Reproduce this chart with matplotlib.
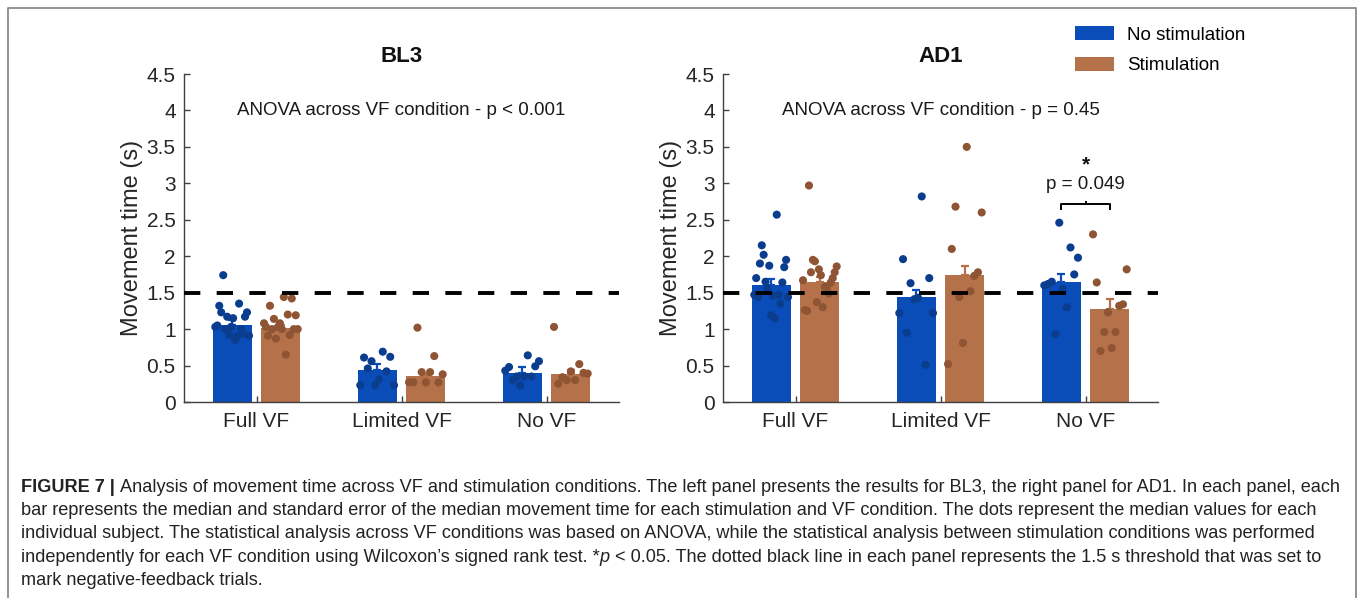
import numpy as np
import matplotlib
matplotlib.use('Agg')
import matplotlib.pyplot as plt
from matplotlib.patches import Patch
from matplotlib.lines import Line2D

plt.rcParams['font.family'] = ['Liberation Sans', 'DejaVu Sans']

conditions = ['Full VF', 'Limited VF', 'No VF']
ytick_vals = [0, 0.5, 1, 1.5, 2, 2.5, 3, 3.5, 4, 4.5]
ytick_text = ['0', '0.5', '1', '1.5', '2', '2.5', '3', '3.5', '4', '4.5']

# BL3 - bar medians and standard error (upper part only)
bl3_nostim_med = [1.06, 0.44, 0.40]
bl3_nostim_err = [0.06, 0.08, 0.075]
bl3_stim_med = [1.01, 0.35, 0.39]
bl3_stim_err = [0.05, 0.04, 0.05]

# BL3 - individual subject medians (left to right within a bar)
bl3_nostim_pts = [
    [1.03, 1.05, 1.32, 1.23, 1.74, 1.0, 1.17, 0.92, 1.03, 1.15, 0.85, 0.9, 1.35, 1.0, 0.94, 1.17, 1.23, 0.91],
    [0.23, 0.61, 0.46, 0.56, 0.23, 0.31, 0.69, 0.42, 0.62, 0.23],
    [0.43, 0.48, 0.3, 0.35, 0.23, 0.35, 0.64, 0.35, 0.49, 0.56],
]
bl3_stim_pts = [
    [1.08, 1.03, 0.91, 1.32, 1.0, 1.14, 0.87, 1.03, 1.08, 1.0, 1.44, 0.65, 1.2, 0.92, 1.42, 1.0, 1.19, 1.0],
    [0.27, 0.27, 1.02, 0.41, 0.27, 0.41, 0.63, 0.27, 0.38],
    [1.03, 0.25, 0.34, 0.3, 0.42, 0.3, 0.52, 0.4, 0.39],
]

# AD1
ad1_nostim_med = [1.61, 1.44, 1.65]
ad1_nostim_err = [0.08, 0.10, 0.11]
ad1_stim_med = [1.65, 1.74, 1.28]
ad1_stim_err = [0.06, 0.13, 0.13]

ad1_nostim_pts = [
    [1.47, 1.7, 1.44, 1.9, 2.15, 2.02, 1.65, 1.56, 1.87, 1.19, 1.46, 1.15, 2.57, 1.47, 1.35, 1.64, 1.85, 1.95, 1.44],
    [1.22, 1.96, 0.95, 1.63, 1.41, 1.43, 2.82, 0.51, 1.7, 1.22],
    [1.6, 1.62, 1.65, 0.93, 2.46, 1.55, 1.3, 2.12, 1.75, 1.98],
]
ad1_stim_pts = [
    [1.67, 1.26, 1.25, 2.97, 1.78, 1.95, 1.93, 1.37, 1.82, 1.74, 1.3, 1.58, 1.57, 1.49, 1.64, 1.7, 1.78, 1.86],
    [0.52, 2.1, 2.68, 1.44, 0.81, 3.5, 1.52, 1.73, 1.78, 2.6],
    [2.3, 1.64, 0.7, 0.96, 1.23, 0.74, 0.96, 1.32, 1.34, 1.82],
]

threshold = 1.5
anova_bl3 = 'ANOVA across VF condition - p < 0.001'
anova_ad1 = 'ANOVA across VF condition - p = 0.45'
sig_text = 'p = 0.049'

blue = '#0a4db8'
blue_dot = '#0b3d8e'
brown = '#b4714a'
brown_dot = '#8f5433'
spine_col = '#404040'
txt_col = '#222222'

W, H = 1358, 598
fig = plt.figure(figsize=(W / 100, H / 100), dpi=100)

bw = 0.27
off = 0.168


def panel(ax, title, anova, nm, ne, sm, se, npts, spts):
    x = np.arange(1, len(conditions) + 1)
    ax.bar(x - off, nm, bw, color=blue, zorder=2)
    ax.bar(x + off, sm, bw, color=brown, zorder=2)
    ax.errorbar(x - off, nm, yerr=[np.zeros(len(nm)), ne], fmt='none',
                ecolor=blue, elinewidth=1.6, capsize=3, capthick=1.6, zorder=2.5)
    ax.errorbar(x + off, sm, yerr=[np.zeros(len(sm)), se], fmt='none',
                ecolor=brown, elinewidth=1.6, capsize=3, capthick=1.6, zorder=2.5)
    for i in range(len(conditions)):
        for pts, c, sgn in ((npts[i], blue_dot, -1), (spts[i], brown_dot, 1)):
            xs = x[i] + sgn * off + np.linspace(-0.43, 0.43, len(pts)) * bw
            ax.scatter(xs, pts, s=34, color=c, edgecolors='none', zorder=3)
    ax.axhline(threshold, color='black', lw=2.8, linestyle=(0, (4.2, 4.2)), zorder=4)

    ax.set_xlim(0.5, 3.5)
    ax.set_ylim(0, 4.5)
    ax.set_xticks(x)
    ax.set_xticklabels(conditions)
    ax.set_yticks(ytick_vals)
    ax.set_yticklabels(ytick_text)
    for s in ('top', 'right'):
        ax.spines[s].set_visible(False)
    for s in ('left', 'bottom'):
        ax.spines[s].set_color(spine_col)
        ax.spines[s].set_linewidth(1.0)
    ax.tick_params(axis='both', direction='in', length=4, width=1.0,
                   color=spine_col, labelsize=15, labelcolor='#262626')
    ax.tick_params(axis='y', pad=6)
    ax.tick_params(axis='x', pad=7)
    ax.set_ylabel('Movement time (s)', fontsize=17, color='#262626')
    ax.yaxis.set_label_coords(-0.094, 0.5)
    ax.text(0.5, 1.052, title, transform=ax.transAxes, ha='center', va='center',
            fontsize=16, fontweight='bold', color='#111111')
    ax.text(2.0, 4.0, anova, ha='center', va='center', fontsize=13.5, color='#1a1a1a')


ax1 = fig.add_axes([184 / W, 1 - 402 / H, 435 / W, 328 / H])
ax2 = fig.add_axes([723 / W, 1 - 402 / H, 435 / W, 328 / H])
panel(ax1, 'BL3', anova_bl3, bl3_nostim_med, bl3_nostim_err, bl3_stim_med, bl3_stim_err,
      bl3_nostim_pts, bl3_stim_pts)
panel(ax2, 'AD1', anova_ad1, ad1_nostim_med, ad1_nostim_err, ad1_stim_med,
      ad1_stim_err, ad1_nostim_pts, ad1_stim_pts)

# significance bracket on No VF (AD1)
x_lo, x_hi = 3 - off, 3 + off
yb = 2.715
ax2.plot([x_lo, x_lo, x_hi, x_hi], [yb - 0.07, yb, yb, yb - 0.07], color='black', lw=1.4, zorder=5)
ax2.plot([3, 3], [yb, yb + 0.03], color='black', lw=1.4, zorder=5)
ax2.text(3, 2.98, sig_text, ha='center', va='center', fontsize=13.5, color='#1a1a1a')
ax2.text(3, 3.12, '*', ha='center', va='bottom', fontsize=15, fontweight='bold', color='#111111')

# legend
handles = [Patch(facecolor=blue, edgecolor='none'), Patch(facecolor=brown, edgecolor='none')]
fig.legend(handles, ['No stimulation', 'Stimulation'], loc='upper left',
           bbox_to_anchor=(1075 / W, 1 - 26 / H), frameon=False, fontsize=13.5,
           handlelength=2.08, handleheight=0.8, handletextpad=0.7, labelspacing=0.7,
           borderpad=0, borderaxespad=0)

# frame around figure + caption
fig.add_artist(Line2D([8 / W, 8 / W, 1356 / W, 1356 / W], [0, 1 - 8 / H, 1 - 8 / H, 0],
                      transform=fig.transFigure, color='#8a8a8a', lw=1.3))

# caption, one line at a time; pieces with other styles are chained
cap_lines = [
    [('FIGURE 7 | ', 'bold', 'normal'),
     ('Analysis of movement time across VF and stimulation conditions. The left panel presents the results for BL3, the right panel for AD1. In each panel, each', 'normal', 'normal')],
    [('bar represents the median and standard error of the median movement time for each stimulation and VF condition. The dots represent the median values for each', 'normal', 'normal')],
    [('individual subject. The statistical analysis across VF conditions was based on ANOVA, while the statistical analysis between stimulation conditions was performed', 'normal', 'normal')],
    [('independently for each VF condition using Wilcoxon\u2019s signed rank test. *', 'normal', 'normal'),
     ('p', 'normal', 'italic'),
     (' < 0.05. The dotted black line in each panel represents the 1.5 s threshold that was set to', 'normal', 'normal')],
    [('mark negative-feedback trials.', 'normal', 'normal')],
]
base_y = [492, 515, 538, 561.5, 585]
cap_fs = 13.05
for line, by in zip(cap_lines, base_y):
    prev = None
    for txt, wt, st in line:
        if prev is None:
            prev = fig.text(21 / W, 1 - by / H, txt, ha='left', va='baseline', fontsize=cap_fs,
                            fontweight=wt, fontstyle=st, color=txt_col)
        else:
            prev = ax1.annotate(txt, xy=(1, 0), xycoords=prev, ha='left', va='bottom',
                                fontsize=cap_fs, fontweight=wt, fontstyle=st,
                                color=txt_col, annotation_clip=False)

fig.savefig('out.png', dpi=100)
